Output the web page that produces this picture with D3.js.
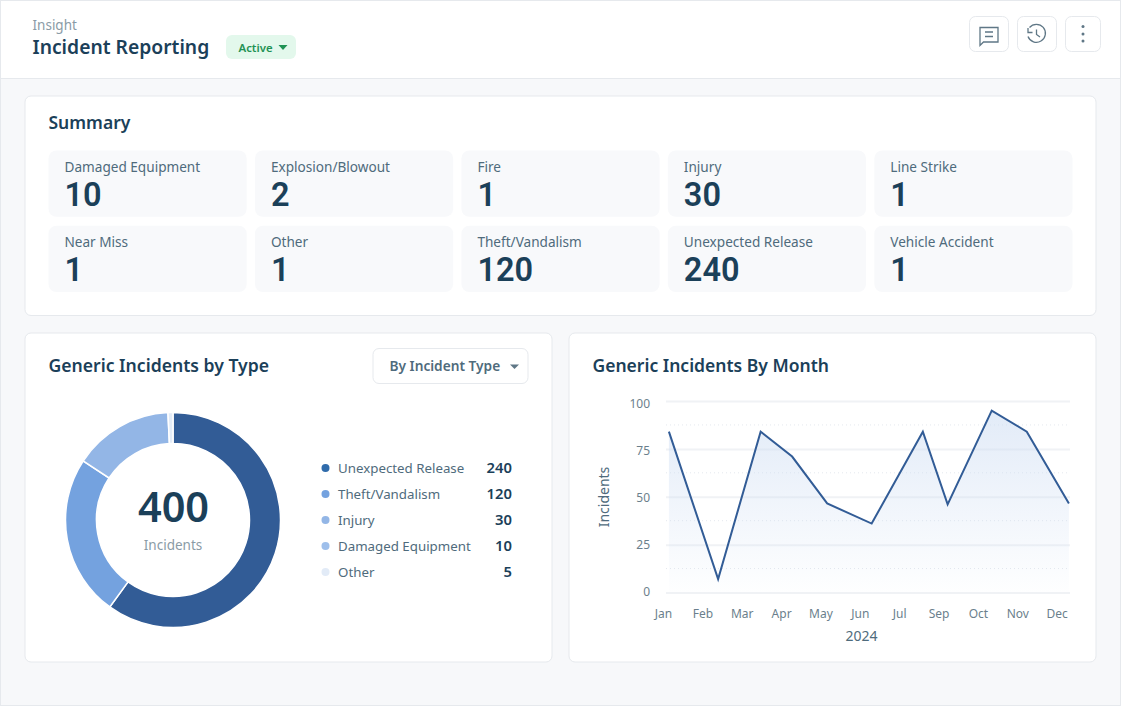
<!DOCTYPE html>
<html>
<head>
<meta charset="utf-8">
<script src="https://cdn.jsdelivr.net/npm/d3@7"></script>
<style>
  html, body { margin: 0; padding: 0; background: #f7f8fa; }
  svg { display: block; font-family: "Noto Sans", sans-serif; }
  text { fill: #1b4059; }
  .axis .domain { display: none; }
  .axis text { fill: #6b7f8c; font-size: 12px; font-family: "Noto Sans", sans-serif; }
</style>
</head>
<body>
<svg id="chart" width="1121" height="706"></svg>
<script>
// summary cards
const summaryLabels = ['Damaged Equipment', 'Explosion/Blowout', 'Fire', 'Injury', 'Line Strike',
  'Near Miss', 'Other', 'Theft/Vandalism', 'Unexpected Release', 'Vehicle Accident'];
const summaryValues = [10, 2, 1, 30, 1, 1, 1, 120, 240, 1];

// legend, as printed
const legendLabels = ['Unexpected Release', 'Theft/Vandalism', 'Injury', 'Damaged Equipment', 'Other'];
const legendValues = [240, 120, 30, 10, 5];
const legendColors = ['#2f6bab', '#74a2df', '#93b6e6', '#9ebfeb', '#e2ebf7'];

// ring shares, they do not follow the legend numbers
const sliceValues = [240, 97, 60, 3];
const sliceColors = ['#325c96', '#74a2df', '#93b6e6', '#e2ebf7'];

// line: position is in units of the month labels
const monthLabels = ['Jan', 'Feb', 'Mar', 'Apr', 'May', 'Jun', 'Jul', 'Sep', 'Oct', 'Nov', 'Dec'];
const pointPos = [0.15, 1.40, 2.48, 3.28, 4.17, 5.30, 6.60, 7.23, 8.35, 9.24, 10.31];
const pointValues = [84, 7, 84, 71, 46.5, 36, 84, 46, 95, 84, 46.5];
const yTicks = [0, 25, 50, 75, 100];
const yMinorTicks = [12.5, 37.5, 62.5, 87.5];

const svg = d3.select('#chart');

const addText = (parent, x, y, str, size, weight, color, anchor) =>
  parent.append('text')
    .attr('x', x).attr('y', y)
    .attr('font-size', size)
    .attr('font-weight', weight || 400)
    .attr('text-anchor', anchor || 'start')
    .style('fill', color || '#1b4059')
    .text(str);

const addBox = (x, y, w, h, r, fill, stroke) =>
  svg.append('rect')
    .attr('x', x).attr('y', y).attr('width', w).attr('height', h).attr('rx', r)
    .attr('fill', fill)
    .attr('stroke', stroke || 'none');

// page frame + header
addBox(0.5, 0.5, 1120, 705, 0, '#f7f8fa', '#e6e9ed');
svg.append('rect').attr('x', 1).attr('y', 1).attr('width', 1119).attr('height', 77).attr('fill', '#fff');
svg.append('line').attr('x1', 1).attr('x2', 1120).attr('y1', 78.5).attr('y2', 78.5).attr('stroke', '#e6e9ed');

addText(svg, 32.5, 30, 'Insight', 13.5, 400, '#8a9ba6');
addText(svg, 32.5, 54, 'Incident Reporting', 19.3, 600);

addBox(226, 35, 70, 24, 6, '#e3f8ec');
addText(svg, 238.5, 51.5, 'Active', 11.4, 600, '#1f9254');
svg.append('path').attr('d', 'M278.5 45h9l-4.5 5z').attr('fill', '#1f9254');

// header buttons
addBox(969.5, 16.5, 39, 35, 6, '#fff', '#e6e9ed');
addBox(1017.5, 16.5, 39, 35, 6, '#fff', '#e6e9ed');
addBox(1065.5, 16.5, 35, 35, 6, '#fff', '#e6e9ed');
svg.append('path')
  .attr('d', 'M980 27.5h18v14.5h-14.5l-3.5 3.5z M985 32h8 M985 36.5h8')
  .attr('fill', 'none').attr('stroke', '#5f7786').attr('stroke-width', 1.3);
svg.append('path')
  .attr('d', 'M1029.5 27.5a9 9 0 1 1 -1.5 9 M1028 28v4.5h4.5 M1036.5 29.5v5l3.5 2.5')
  .attr('fill', 'none').attr('stroke', '#5f7786').attr('stroke-width', 1.3);
[26.5, 34, 41].forEach(cy => svg.append('circle').attr('cx', 1083).attr('cy', cy).attr('r', 1.5).attr('fill', '#5f7786'));

// summary panel
addBox(25, 96, 1071, 219.5, 6, '#fff', '#e6e9ed');
addText(svg, 48.5, 129, 'Summary', 17.5, 600);

const colX = d3.scaleBand().domain(d3.range(5)).range([48.5, 1072.5]).paddingInner(0.04);
const rowY = d3.scaleBand().domain(d3.range(2)).range([150.5, 292]).paddingInner(0.12);

summaryLabels.forEach((label, i) => {
  const x = colX(i % 5);
  const y = rowY(Math.floor(i / 5));
  addBox(x, y, colX.bandwidth(), rowY.bandwidth(), 8, '#f8f9fb');
  addText(svg, x + 16, y + 21, label, 13.6, 400, '#4f6b7c');
  // Roboto has a shorter line box, the number stays clear of the label above
  addText(svg, x + 16, y + 55, summaryValues[i], 32.5, 600).style('font-family', 'Roboto');
});

// donut panel
addBox(25, 333, 527, 329, 6, '#fff', '#e6e9ed');
addText(svg, 48.5, 372, 'Generic Incidents by Type', 17.6, 600);

addBox(373, 348.5, 155, 35, 6, '#fff', '#e6e9ed');
addText(svg, 389.5, 371, 'By Incident Type', 13.7, 600, '#4f6b7c');
svg.append('path').attr('d', 'M510 364.5h9l-4.5 4.5z').attr('fill', '#5f7786');

const pie = d3.pie().sort(null)(sliceValues);
const arc = d3.arc().innerRadius(76.5).outerRadius(107.5);
const donut = svg.append('g').attr('transform', 'translate(173,520)');
donut.selectAll('path').data(pie).enter().append('path')
  .attr('d', arc)
  .attr('fill', (d, i) => sliceColors[i])
  .attr('stroke', '#fff')
  .attr('stroke-width', 1.5);

addText(svg, 173.5, 522, d3.sum(sliceValues), 41.5, 600, '#1b4059', 'middle');
addText(svg, 173, 550, 'Incidents', 13.5, 400, '#8a9ba6', 'middle');

const legendY = d3.scalePoint().domain(d3.range(legendLabels.length)).range([468, 572]);
legendLabels.forEach((label, i) => {
  const y = legendY(i);
  svg.append('circle').attr('cx', 325.5).attr('cy', y).attr('r', 4).attr('fill', legendColors[i]);
  addText(svg, 338, y + 5, label, 13.3, 400, '#4f6b7c');
  addText(svg, 512, y + 5, legendValues[i], 14.8, 600, '#1b4059', 'end');
});

// line panel
addBox(569, 333, 527, 329, 6, '#fff', '#e6e9ed');
addText(svg, 592.5, 372, 'Generic Incidents By Month', 17.5, 600);

const xScale = d3.scaleLinear().domain([0, monthLabels.length - 1]).range([663, 1056.7]);
const yScale = d3.scaleLinear().domain([0, 100]).range([592.5, 401]);
// tick labels sit a little off their grid lines in the reference
const yLabelScale = d3.scaleLinear().domain([0, 100]).range([591.7, 404]);
const gridLeft = 666;
const gridRight = 1070;

const defs = svg.append('defs');
const grad = defs.append('linearGradient').attr('id', 'areaFill')
  .attr('x1', 0).attr('x2', 0).attr('y1', 0).attr('y2', 1);
grad.append('stop').attr('offset', '0%').attr('stop-color', '#cfdef3').attr('stop-opacity', 0.6);
grad.append('stop').attr('offset', '100%').attr('stop-color', '#cfdef3').attr('stop-opacity', 0.02);

const points = pointPos.map((p, i) => ({ p: p, v: pointValues[i] }));

const grid = svg.append('g').attr('class', 'axis')
  .attr('transform', `translate(${gridRight},0)`)
  .call(d3.axisLeft(yScale).tickValues(yTicks).tickSize(gridRight - gridLeft).tickFormat(''));
grid.selectAll('line').attr('stroke', '#f0f2f5').attr('stroke-width', 2);

svg.append('g').attr('class', 'axis')
  .attr('transform', `translate(${gridLeft},0)`)
  .call(d3.axisLeft(yLabelScale).tickValues(yTicks).tickSize(0).tickPadding(16));

svg.append('g').selectAll('line').data(yMinorTicks).enter().append('line')
  .attr('x1', gridLeft).attr('x2', gridRight)
  .attr('y1', d => yScale(d)).attr('y2', d => yScale(d))
  .attr('stroke', '#e4e8ee').attr('stroke-dasharray', '1 3');

svg.append('path').datum(points)
  .attr('fill', 'url(#areaFill)')
  .attr('d', d3.area().x(d => xScale(d.p)).y0(yScale(0)).y1(d => yScale(d.v)));

svg.append('path').datum(points)
  .attr('fill', 'none')
  .attr('stroke', '#325c96')
  .attr('stroke-width', 2)
  .attr('d', d3.line().x(d => xScale(d.p)).y(d => yScale(d.v)));

svg.append('g').attr('class', 'axis')
  .attr('transform', 'translate(0,606)')
  .call(d3.axisBottom(xScale)
    .tickValues(d3.range(monthLabels.length))
    .tickFormat(i => monthLabels[i])
    .tickSize(0).tickPadding(3));

addText(svg, 861.5, 641, '2024', 14, 400, '#4f6b7c', 'middle');
addText(svg, 0, 0, 'Incidents', 14, 400, '#4f6b7c', 'middle')
  .attr('transform', 'translate(609,497) rotate(-90)');
</script>
</body>
</html>
